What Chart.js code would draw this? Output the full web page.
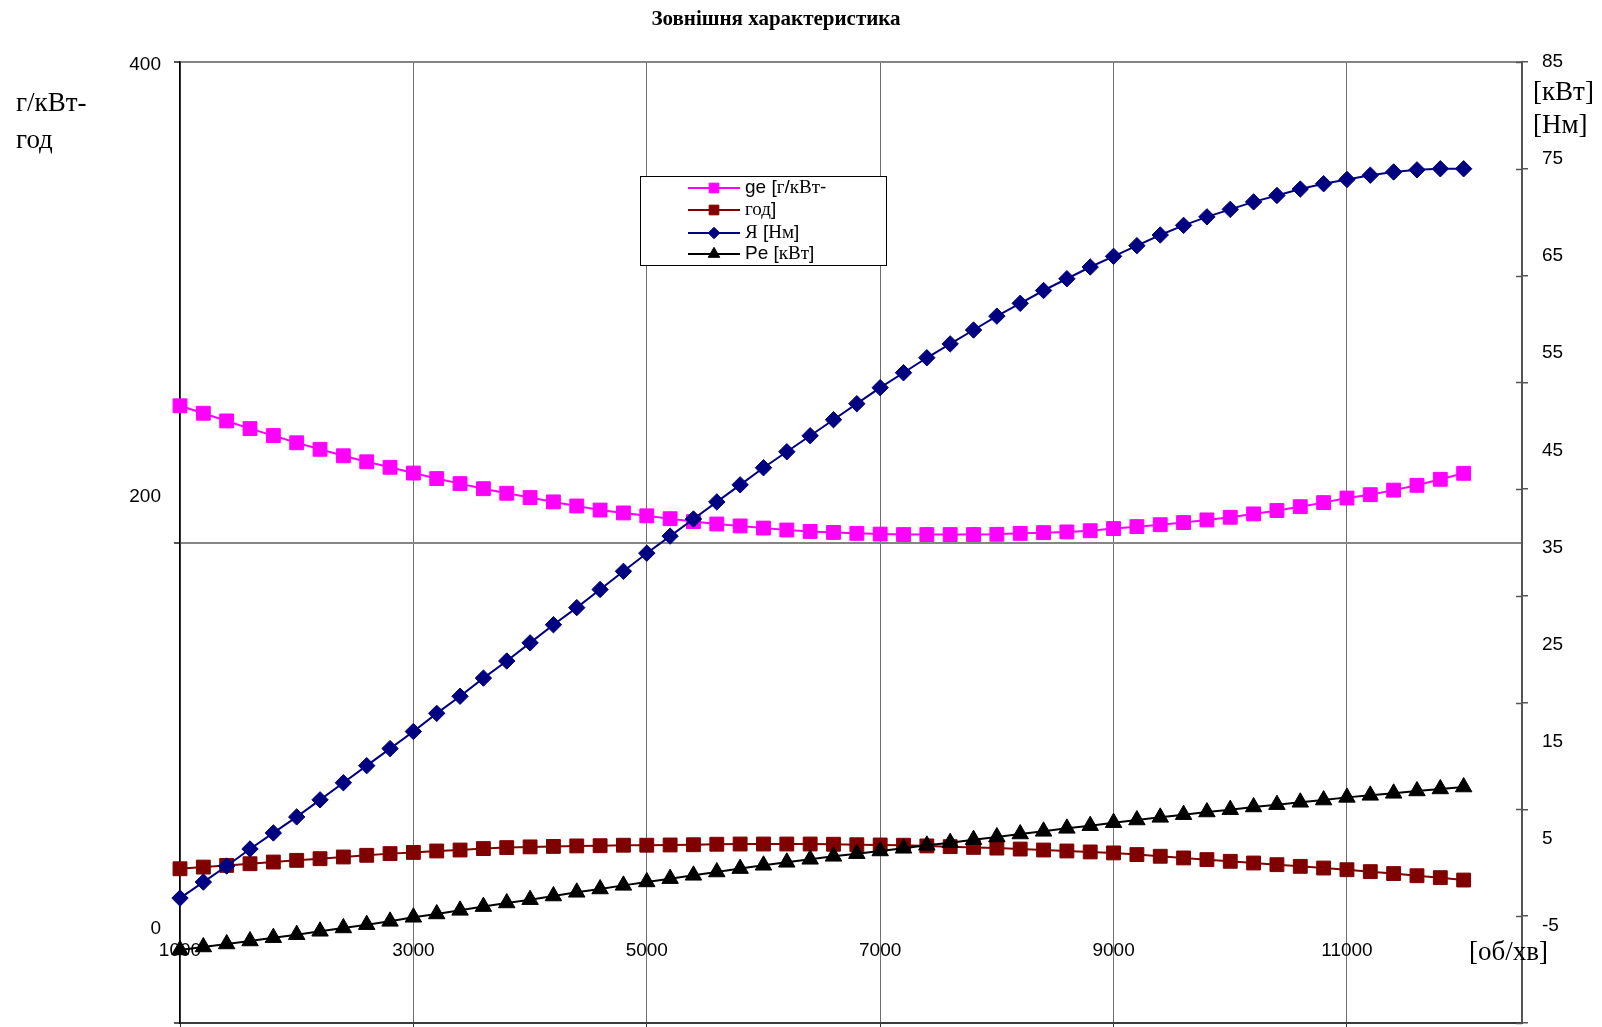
<!DOCTYPE html>
<html lang="uk">
<head>
<meta charset="utf-8">
<title>Зовнішня характеристика</title>
<script src="https://cdn.jsdelivr.net/npm/chart.js@4.4.1/dist/chart.umd.min.js"></script>
<style>
  html, body { margin: 0; padding: 0; background: #fff; }
  #wrap { width: 1602px; height: 1027px; }
</style>
</head>
<body>
<div id="wrap"><canvas id="extChart" width="1602" height="1027"></canvas></div>
<script>
// crankshaft speed, rpm
const rpm = [
  1000, 1200, 1400, 1600, 1800, 2000, 2200, 2400, 2600, 2800,
  3000, 3200, 3400, 3600, 3800, 4000, 4200, 4400, 4600, 4800,
  5000, 5200, 5400, 5600, 5800, 6000, 6200, 6400, 6600, 6800,
  7000, 7200, 7400, 7600, 7800, 8000, 8200, 8400, 8600, 8800,
  9000, 9200, 9400, 9600, 9800, 10000, 10200, 10400, 10600, 10800,
  11000, 11200, 11400, 11600, 11800, 12000
];

// specific fuel consumption, g/kWh (left axis)
const geValues = [
  256.9, 253.8, 250.6, 247.4, 244.5, 241.5, 238.8, 236.1, 233.6, 231.3,
  228.9, 226.6, 224.5, 222.4, 220.5, 218.7, 216.9, 215.2, 213.5, 212.3,
  211.1, 209.9, 208.7, 207.7, 206.9, 206.0, 205.2, 204.6, 204.2, 203.8,
  203.5, 203.3, 203.3, 203.3, 203.3, 203.4, 203.8, 204.1, 204.4, 204.9,
  205.8, 206.6, 207.4, 208.3, 209.4, 210.5, 211.9, 213.3, 214.9, 216.6,
  218.5, 219.9, 221.8, 223.8, 226.3, 228.8
];

// second series on the left axis
const gtValues = [
  64.2, 64.9, 65.6, 66.3, 67.0, 67.7, 68.4, 69.1, 69.8, 70.5,
  71.0, 71.6, 72.0, 72.6, 73.0, 73.3, 73.5, 73.7, 73.8, 74.0,
  74.0, 74.1, 74.2, 74.4, 74.5, 74.5, 74.5, 74.5, 74.4, 74.2,
  74.1, 74.0, 73.7, 73.4, 73.1, 72.8, 72.4, 72.0, 71.6, 71.2,
  70.8, 70.1, 69.4, 68.7, 68.0, 67.3, 66.6, 65.9, 65.2, 64.5,
  63.8, 63.0, 62.2, 61.3, 60.5, 59.5
];

// torque, Nm (right axis)
const torqueValues = [
  6.7, 8.2, 9.7, 11.3, 12.8, 14.3, 15.9, 17.5, 19.1, 20.7,
  22.3, 24.0, 25.6, 27.3, 28.9, 30.6, 32.3, 33.9, 35.6, 37.3,
  39.0, 40.6, 42.2, 43.8, 45.4, 47.0, 48.5, 50.0, 51.5, 53.0,
  54.5, 55.9, 57.3, 58.6, 59.9, 61.2, 62.4, 63.6, 64.7, 65.8,
  66.8, 67.8, 68.8, 69.7, 70.5, 71.2, 71.9, 72.5, 73.1, 73.6,
  74.0, 74.4, 74.7, 74.9, 75.0, 75.0
];

// effective power, kW (right axis)
const powerValues = [
  1.84, 2.12, 2.40, 2.68, 2.99, 3.27, 3.59, 3.90, 4.21, 4.52,
  4.90, 5.21, 5.55, 5.90, 6.24, 6.55, 6.89, 7.24, 7.55, 7.89,
  8.21, 8.52, 8.83, 9.14, 9.46, 9.77, 10.05, 10.33, 10.61, 10.86,
  11.11, 11.36, 11.64, 11.89, 12.17, 12.42, 12.70, 12.95, 13.23, 13.48,
  13.76, 14.01, 14.26, 14.51, 14.76, 14.98, 15.23, 15.45, 15.67, 15.88,
  16.13, 16.32, 16.51, 16.73, 16.92, 17.10
];

const xTicks = [1000, 3000, 5000, 7000, 9000, 11000];
const leftTicks = [0, 200, 400];
const rightTicks = [-5, 5, 15, 25, 35, 45, 55, 65, 75, 85];

const seriesLabels = ['ge [г/кВт-', 'год]', 'Я [Нм]', 'Pe [кВт]'];

const SANS = '"Liberation Sans", Arial, sans-serif';
const SERIF = '"Liberation Serif", "Times New Roman", serif';
const CYRILLIC = /[\u0400-\u04FF]/;

function pairs(values) {
  return values.map((v, i) => ({ x: rpm[i], y: v }));
}

// cyrillic letters go out in the serif face, everything else in sans
function drawMixed(ctx, text, x, y, size) {
  const runs = [];
  for (const ch of text) {
    const serif = CYRILLIC.test(ch);
    const last = runs[runs.length - 1];
    if (last && last.serif === serif) last.text += ch;
    else runs.push({ text: ch, serif });
  }
  ctx.textAlign = 'left';
  runs.forEach(r => {
    ctx.font = `${size}px ${r.serif ? SERIF : SANS}`;
    ctx.fillText(r.text, x, y);
    x += ctx.measureText(r.text).width;
  });
}

const whiteBackground = {
  id: 'whiteBackground',
  beforeDraw(chart) {
    const ctx = chart.ctx;
    ctx.save();
    ctx.fillStyle = '#fff';
    ctx.fillRect(0, 0, chart.width, chart.height);
    ctx.restore();
  }
};

// title, units and tick numbers
const axisText = {
  id: 'axisText',
  beforeDatasetsDraw(chart) {
    const { ctx, chartArea, scales } = chart;
    ctx.save();
    ctx.fillStyle = '#000';
    ctx.textBaseline = 'middle';

    ctx.font = `bold 21px ${SERIF}`;
    ctx.textAlign = 'center';
    ctx.fillText('Зовнішня характеристика', 776, 20);

    ctx.font = `19px ${SANS}`;
    ctx.textAlign = 'right';
    leftTicks.forEach(v => {
      ctx.fillText(String(v), chartArea.left - 19, scales.yLlab.getPixelForValue(v) + 3);
    });
    ctx.textAlign = 'left';
    rightTicks.forEach(v => {
      let y = scales.yRlab.getPixelForValue(v);
      // the lowest number sits a little higher, clear of the unit label
      if (v === rightTicks[0]) y -= 10;
      ctx.fillText(String(v), chartArea.right + 20, y);
    });
    ctx.textAlign = 'center';
    xTicks.forEach(v => {
      ctx.fillText(String(v), scales.x.getPixelForValue(v), chartArea.bottom - 72);
    });

    ctx.font = `27px ${SERIF}`;
    ctx.textAlign = 'left';
    ctx.fillText('г/кВт-', 16, 104);
    ctx.fillText('год', 16, 141);
    ctx.fillText('[кВт]', 1533, 93);
    ctx.fillText('[Нм]', 1533, 126);
    ctx.fillText('[об/хв]', 1469, 953);

    // right axis ticks cross the axis line
    ctx.strokeStyle = '#555';
    ctx.lineWidth = 1.5;
    ctx.beginPath();
    rightTicks.forEach(v => {
      const y = Math.round(scales.yR.getPixelForValue(v)) + 0.5;
      ctx.moveTo(chartArea.right - 6, y);
      ctx.lineTo(chartArea.right, y);
    });
    ctx.stroke();
    ctx.restore();
  }
};

const legendBox = {
  id: 'legendBox',
  afterDatasetsDraw(chart) {
    const ctx = chart.ctx;
    const rows = [188, 210, 233, 254];
    ctx.save();
    ctx.fillStyle = '#fff';
    ctx.fillRect(640.5, 176.5, 246, 89);
    ctx.strokeStyle = '#000';
    ctx.lineWidth = 1;
    ctx.strokeRect(640.5, 176.5, 246, 89);

    chart.data.datasets.forEach((ds, i) => {
      const y = rows[i];
      ctx.strokeStyle = ds.borderColor;
      ctx.lineWidth = 2;
      ctx.beginPath();
      ctx.moveTo(688, y);
      ctx.lineTo(740, y);
      ctx.stroke();
      ctx.fillStyle = ds.pointBackgroundColor;
      ctx.strokeStyle = ds.pointBorderColor;
      ctx.lineWidth = 1;
      Chart.helpers.drawPoint(ctx, {
        pointStyle: ds.pointStyle,
        radius: ds.pointRadius * 0.7,
        rotation: 0,
        borderWidth: 1
      }, 714, y);
      ctx.fillStyle = '#000';
      ctx.textBaseline = 'middle';
      drawMixed(ctx, seriesLabels[i], 745, y, 19);
    });
    ctx.restore();
  }
};

function series(label, values, axis, color, style, radius, order) {
  return {
    label,
    data: pairs(values),
    yAxisID: axis,
    borderColor: color,
    backgroundColor: color,
    borderWidth: 2,
    pointStyle: style,
    pointRadius: radius,
    pointBorderWidth: 1,
    pointBackgroundColor: color,
    pointBorderColor: color,
    tension: 0,
    clip: false,
    order
  };
}

new Chart(document.getElementById('extChart'), {
  type: 'line',
  data: {
    datasets: [
      series(seriesLabels[0], geValues, 'yL', '#ff00ff', 'rect', 9.8, 4),
      series(seriesLabels[1], gtValues, 'yL', '#800000', 'rect', 9.8, 3),
      series(seriesLabels[2], torqueValues, 'yR', '#000080', 'rectRot', 8.2, 1),
      series(seriesLabels[3], powerValues, 'yR', '#000000', 'triangle', 9.5, 2)
    ]
  },
  options: {
    responsive: false,
    animation: false,
    layout: { autoPadding: false, padding: { left: 174, right: 74, top: 62, bottom: 0 } },
    plugins: {
      legend: { display: false },
      tooltip: { enabled: false },
      title: { display: false }
    },
    scales: {
      x: {
        type: 'linear',
        position: 'bottom',
        min: 1000,
        max: 12500,
        afterBuildTicks: s => { s.ticks = xTicks.map(v => ({ value: v })); },
        afterFit: s => { s.height = 4; },
        grid: { color: '#6f6f6f', lineWidth: 1, tickLength: 4, tickColor: '#333' },
        border: { color: '#3a3a3a', width: 2 },
        ticks: { display: false }
      },
      yL: {
        type: 'linear',
        position: 'left',
        min: 0,
        max: 400,
        afterBuildTicks: s => { s.ticks = leftTicks.map(v => ({ value: v })); },
        afterFit: s => { s.width = 6; },
        grid: { color: '#858585', lineWidth: 2, tickLength: 6, tickColor: '#555' },
        border: { color: '#000', width: 1.5 },
        ticks: { display: false }
      },
      yR: {
        type: 'linear',
        position: 'right',
        min: -5,
        max: 85,
        afterBuildTicks: s => { s.ticks = rightTicks.map(v => ({ value: v })); },
        afterFit: s => { s.width = 6; },
        grid: { drawOnChartArea: false, color: '#555', lineWidth: 1.5, tickLength: 6 },
        border: { color: '#555', width: 2 },
        ticks: { display: false }
      },
      // scales that place the tick numbers
      yLlab: { type: 'linear', position: 'left', display: false, min: -45, max: 400 },
      yRlab: { type: 'linear', position: 'right', display: false, min: -14, max: 85 }
    }
  },
  plugins: [whiteBackground, axisText, legendBox]
});
</script>
</body>
</html>
